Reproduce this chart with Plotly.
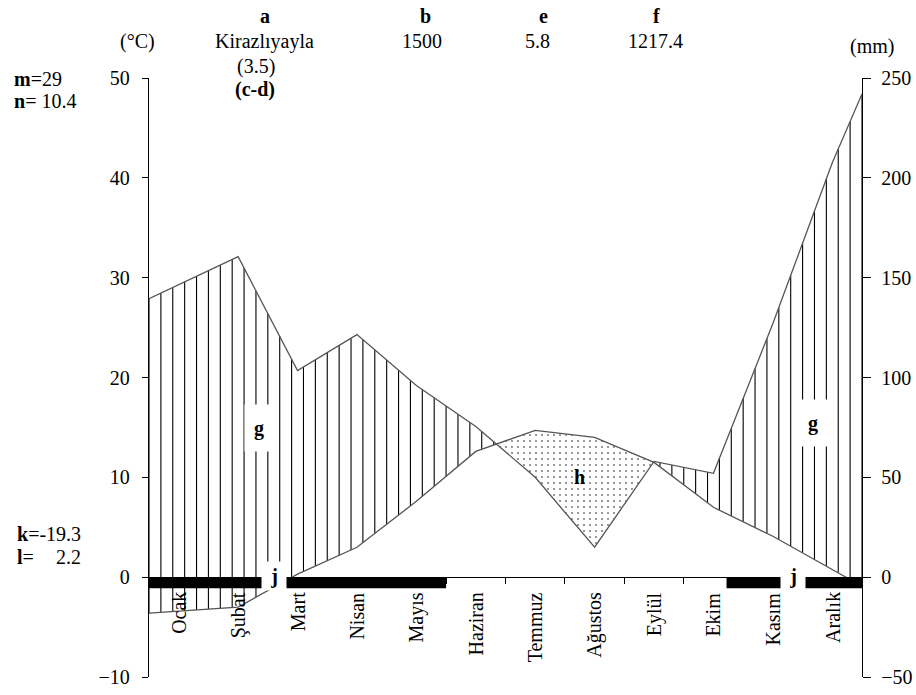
import numpy as np
import plotly.graph_objects as go

# ---------------- data ----------------
months = ["Ocak", "Şubat", "Mart", "Nisan", "Mayıs", "Haziran", "Temmuz",
          "Ağustos", "Eylül", "Ekim", "Kasım", "Aralık"]
temp_c = [-3.4, -3.0, 0.3, 3.0, 7.6, 12.6, 14.7, 14.0, 11.5, 7.0, 4.1, 0.8]
precip_mm = [146.5, 160.5, 103.5, 121.5, 96.0, 75.5, 50.0, 15.0, 58.0, 52.0, 127.0, 207.5]
temp_edges = [-3.6, -0.9]        # curve values at left / right frame edge
precip_edges = [139.5, 242.0]
frost_periods = [(0.0, 5.0), (9.72, 12.0)]   # month units (black bar)
left_ticks = [-10, 0, 10, 20, 30, 40, 50]
right_ticks = [-50, 0, 50, 100, 150, 200, 250]

FONT = "Liberation Serif"
FS = 20

# curve x positions: month i centred at i+0.5, edges at 0 and 12
xc = [0.0] + [i + 0.5 for i in range(12)] + [12.0]
tc = [temp_edges[0]] + temp_c + [temp_edges[1]]
pc = [precip_edges[0]] + precip_mm + [precip_edges[1]]
pc_scaled = [p / 5.0 for p in pc]     # precipitation on temperature scale

fig = go.Figure()

# dotted (arid) area: between temperature and precipitation where precip < temp
xd = np.linspace(0, 12, 1201)
td = np.interp(xd, xc, tc)
pd_ = np.interp(xd, xc, pc_scaled)
low = np.minimum(td, pd_)
poly_x = np.concatenate([xd, xd[::-1]])
poly_y = np.concatenate([td, low[::-1]])
fig.add_trace(go.Scatter(x=poly_x, y=poly_y, mode="lines", fill="toself",
                         line=dict(width=0), fillcolor="rgba(0,0,0,0)",
                         fillpattern=dict(shape=".", size=6, solidity=0.1,
                                          fgcolor="black", bgcolor="white"),
                         hoverinfo="skip", showlegend=False))

# vertical hatching (humid): where precip > temp
hx, hy = [], []
for k in range(61):
    x = 0.2 * k
    t = float(np.interp(x, xc, tc))
    p = float(np.interp(x, xc, pc_scaled))
    if p > t + 0.05:
        hx += [x, x, None]
        hy += [t, p, None]
fig.add_trace(go.Scatter(x=hx, y=hy, mode="lines",
                         line=dict(color="black", width=1.1),
                         hoverinfo="skip", showlegend=False))

# curves
fig.add_trace(go.Scatter(x=xc, y=tc, mode="lines",
                         line=dict(color="#555", width=1.3), showlegend=False))
fig.add_trace(go.Scatter(x=xc, y=pc, mode="lines", yaxis="y2",
                         line=dict(color="#555", width=1.3), showlegend=False))

# frost bars
for a, b in frost_periods:
    fig.add_shape(type="rect", xref="x", yref="y", x0=a, x1=b, y0=-0.05, y1=-1.1,
                  fillcolor="black", line=dict(width=0), layer="above")

def fx(px):
    return (px - 149) / 713.0

def fy(py):
    return (677 - py) / 599.0

ann = []
def txt(px, py, s, xanchor="center", size=FS):
    ann.append(dict(x=fx(px), y=fy(py), xref="paper", yref="paper", text=s,
                    showarrow=False, xanchor=xanchor, yanchor="middle",
                    font=dict(family=FONT, size=size, color="black")))

txt(265, 16, "<b>a</b>")
txt(264, 41, "Kirazlıyayla")
txt(256, 66, "(3.5)")
txt(255, 89, "<b>(c-d)</b>")
txt(425, 16, "<b>b</b>")
txt(422, 41, "1500")
txt(543, 16, "<b>e</b>")
txt(537, 41, "5.8")
txt(656, 16, "<b>f</b>")
txt(655, 41, "1217.4")
txt(137, 41, "(°C)")
txt(872, 47, "(mm)")
txt(12, 79, "<b>m</b>=29", xanchor="left")
txt(12, 101, "<b>n</b>= 10.4", xanchor="left")
txt(15, 534, "<b>k</b>=-19.3", xanchor="left")
txt(15, 557, "<b>l</b>=", xanchor="left")
txt(83, 557, "2.2", xanchor="right")

# labels inside the plot (data coordinates)
def lab(x, y, s, w, h):
    ann.append(dict(x=x, y=y, xref="x", yref="y", text="<b>%s</b>" % s,
                    showarrow=False, bgcolor="white", width=w, height=h,
                    font=dict(family=FONT, size=FS, color="black")))

lab(1.85, 14.9, "g", 26, 44)
lab(11.17, 15.4, "g", 28, 44)
lab(2.1, 0.1, "j", 22, 26)
lab(10.84, 0.1, "j", 22, 24)
ann.append(dict(x=7.25, y=10.0, xref="x", yref="y", text="<b>h</b>",
                showarrow=False, font=dict(family=FONT, size=FS, color="black")))

# month labels (rotated)
for i, m in enumerate(months):
    ann.append(dict(x=i + 0.5, y=-1.3, xref="x", yref="y", text=m,
                    showarrow=False, textangle=-90, xanchor="center",
                    yanchor="top", font=dict(family=FONT, size=FS, color="black")))

fig.update_layout(
    width=916, height=695,
    margin=dict(l=149, r=54, t=78, b=18, autoexpand=False),
    plot_bgcolor="white", paper_bgcolor="white",
    showlegend=False,
    annotations=ann,
    xaxis=dict(range=[0, 12], anchor="free", position=1 / 6.0,
               showline=True, linecolor="black", linewidth=1.3,
               tickmode="array", tickvals=list(range(1, 12)),
               ticks="outside", ticklen=6, tickcolor="black",
               showticklabels=False, showgrid=False, zeroline=False),
    yaxis=dict(range=[-10, 50], tickvals=left_ticks, ticks="outside", ticklen=6,
               tickcolor="black", showline=True, linecolor="black", linewidth=1.3,
               showgrid=False, zeroline=False, ticklabelstandoff=8,
               tickfont=dict(family=FONT, size=FS, color="black")),
    yaxis2=dict(range=[-50, 250], tickvals=right_ticks, overlaying="y", side="right",
                ticks="outside", ticklen=8, tickcolor="black", showline=True,
                linecolor="black", linewidth=1.3, showgrid=False, zeroline=False,
                ticklabelstandoff=6,
                tickfont=dict(family=FONT, size=FS, color="black")),
)

fig.write_html("out.html", config={"displayModeBar": False},
               post_script="document.body.style.margin='0';"
                           "document.body.style.overflow='hidden';")
